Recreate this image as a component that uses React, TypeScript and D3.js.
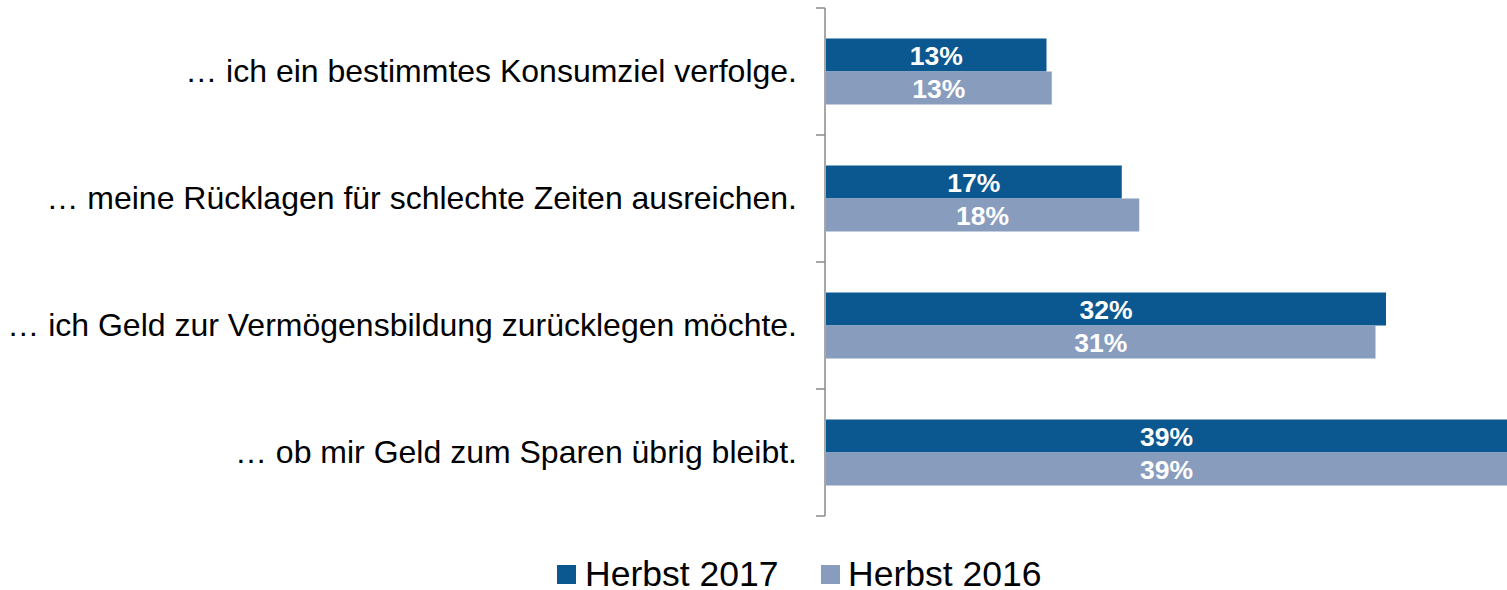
import React from "react";
import * as d3 from "d3";

const categories = [
  "… ich ein bestimmtes Konsumziel verfolge.",
  "… meine Rücklagen für schlechte Zeiten ausreichen.",
  "… ich Geld zur Vermögensbildung zurücklegen möchte.",
  "… ob mir Geld zum Sparen übrig bleibt.",
];
const series2017 = [12.6, 16.9, 32.0, 39.0];
const series2016 = [12.9, 17.9, 31.4, 39.0];
const labels2017 = ["13%", "17%", "32%", "39%"];
const labels2016 = ["13%", "18%", "31%", "39%"];
const seriesNames = ["Herbst 2017", "Herbst 2016"];
const colors = ["#0B578F", "#889CBD"];

export default function App() {
  const W = 1507, H = 590;
  const x = d3.scaleLinear().domain([0, 39]).range([826, 1508.5]);
  const y = d3
    .scaleBand<string>()
    .domain(categories)
    .range([8, 516])
    .paddingInner(61 / 127)
    .paddingOuter(30.5 / 127);
  const bw = y.bandwidth() / 2;
  const font = "Arial, 'Liberation Sans', sans-serif";
  const series = [
    { vals: series2017, labs: labels2017 },
    { vals: series2016, labs: labels2016 },
  ];
  const tickYs = [...categories.map((c) => y(c)! - (y.step() - y.bandwidth()) / 2), 516];
  return (
    <svg
      width={W}
      height={H}
      style={{ position: "absolute", left: 0, top: 0, display: "block" }}
      fontFamily={font}
    >
      {series.map((s, si) =>
        categories.map((c, i) => {
          const x0 = x(0);
          const x1 = Math.min(x(s.vals[i]), W);
          const yt = y(c)! + si * bw;
          return (
            <g key={`${si}-${i}`}>
              <rect x={x0} y={yt} width={x1 - x0} height={bw} fill={colors[si]} />
              <text
                x={(x0 + x1) / 2}
                y={yt + bw / 2}
                dy="0.36em"
                textAnchor="middle"
                fill="#fff"
                fontWeight="bold"
                fontSize={26.5}
              >
                {s.labs[i]}
              </text>
            </g>
          );
        })
      )}
      <line x1={825} x2={825} y1={8} y2={516} stroke="#8a8a8a" strokeWidth={1.5} />
      {tickYs.map((t, i) => (
        <line key={i} x1={816} x2={825} y1={t} y2={t} stroke="#8a8a8a" strokeWidth={1.5} />
      ))}
      {categories.map((c) => (
        <text
          key={c}
          x={797}
          y={y(c)! + y.bandwidth() / 2}
          dy="0.33em"
          textAnchor="end"
          fontSize={32}
          fill="#000"
        >
          {c}
        </text>
      ))}
      <g>
        <rect x={557} y={565} width={19} height={19} fill={colors[0]} />
        <text x={585} y={586} fontSize={35.5} fill="#000">
          {seriesNames[0]}
        </text>
        <rect x={821} y={565} width={19} height={19} fill={colors[1]} />
        <text x={848} y={586} fontSize={35.5} fill="#000">
          {seriesNames[1]}
        </text>
      </g>
    </svg>
  );
}
